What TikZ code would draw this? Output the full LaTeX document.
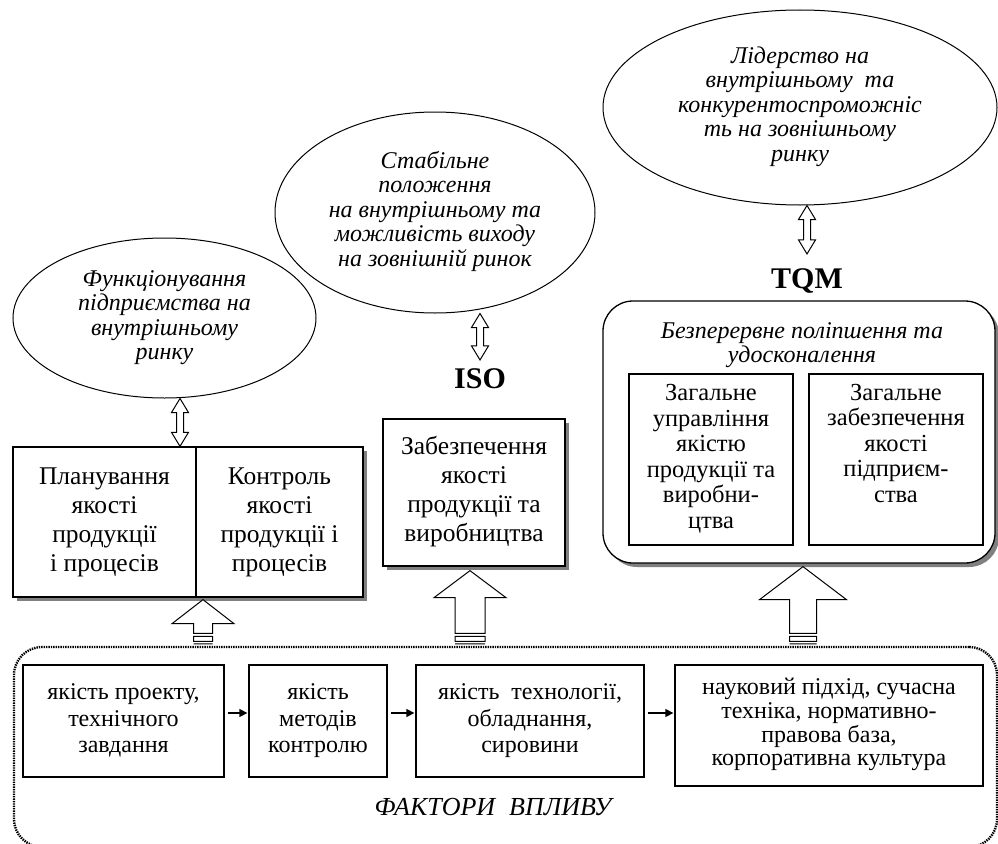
\documentclass[tikz,border=0pt]{standalone}
\usepackage{fontspec}
\setmainfont{Liberation Serif}
\usepackage{graphicx}
\usetikzlibrary{shapes.geometric,shadows,arrows.meta,calc}
\newcommand{\sqz}[2][1]{\scalebox{1}[#1]{\begin{tabular}{@{}c@{}}#2\end{tabular}}}
\newcommand{\dblarr}[2]{\draw[hollow] let \p1=#1, \p2=#2 in
  (\x1,\y1) -- (\x1+8.5pt,\y1-14pt) -- (\x1+3.5pt,\y1-14pt) -- (\x1+3.5pt,\y2+14pt) -- (\x1+8.5pt,\y2+14pt)
  -- (\x1,\y2) -- (\x1-8.5pt,\y2+14pt) -- (\x1-3.5pt,\y2+14pt) -- (\x1-3.5pt,\y1-14pt) -- (\x1-8.5pt,\y1-14pt) -- cycle;}
% #1 tip, #2 base point on frame, #3 head length, #4 head half width, #5 shaft half width
\newcommand{\bigarr}[5]{\draw[hollow] let \p1=#1, \p2=#2 in
  (\x1,\y1) -- (\x1+#4,\y1-#3) -- (\x1+#5,\y1-#3) -- (\x1+#5,\y2+12.5pt) -- (\x1-#5,\y2+12.5pt)
  -- (\x1-#5,\y1-#3) -- (\x1-#4,\y1-#3) -- cycle
  (\x1-#5,\y2+9.5pt) rectangle (\x1+#5,\y2+4.5pt)
  (\x1-#5,\y2+2pt) -- (\x1+#5,\y2+2pt);}
\begin{document}
\begin{tikzpicture}[x=1pt,y=-1pt,
  ell/.style={ellipse, draw, line width=1pt, inner sep=0pt, font=\fontsize{24}{24.5}\selectfont\itshape},
  box/.style={draw, line width=1.3pt, fill=white, inner sep=0pt},
  shad/.style={drop shadow={shadow xshift=4pt,shadow yshift=-4pt,fill=black!50,opacity=1}},
  btxt/.style={font=\fontsize{25.5}{29}\selectfont},
  qtxt/.style={font=\fontsize{24.5}{25.5}\selectfont},
  ftxt/.style={font=\fontsize{24}{26.5}\selectfont},
  itxt/.style={font=\fontsize{24}{22.5}\selectfont\itshape, inner sep=0pt},
  lbl/.style={font=\fontsize{30}{30}\selectfont\bfseries, inner sep=0pt},
  hollow/.style={draw, line width=1pt, fill=white, line join=miter},
  small/.style={-{Triangle[length=8pt,width=8pt]}, line width=1.3pt, shorten <=3pt, shorten >=1pt},
]
\useasboundingbox (0,0) rectangle (998,843);
\clip (0,0) rectangle (998,843);
\fill[white] (0,0) rectangle (998,843);

% ellipses
\node[ell, minimum width=303pt, minimum height=160pt] (e1) at (164.5,318)
  {\sqz{Функціонування\\підприємства на\\внутрішньому\\ринку}};
\node[ell, minimum width=320pt, minimum height=201pt] (e2) at (435,212.5)
  {\sqz{Стабільне\\положення\\на внутрішньому та\\можливість виходу\\на зовнішній ринок}};
\node[ell, minimum width=394pt, minimum height=195pt] (e3) at (800,107.5)
  {\sqz{Лідерство на\\внутрішньому~ та\\конкурентоспроможніс\\ть на зовнішньому\\ринку}};

% labels
\node[lbl, anchor=base] (iso) at (480,388) {ISO};
\node[lbl, anchor=base] (tqm) at (807,288) {TQM};

% box 1
\node[box, shad, btxt, minimum width=183pt, minimum height=150pt] (p1) at (104.5,522)
  {\sqz{Планування\\якості\\продукції\\і процесів}};
\node[box, shad, btxt, minimum width=167pt, minimum height=150pt] (p2) at (279.5,522)
  {\sqz{Контроль\\якості\\продукції і\\процесів}};

% box 2
\node[box, shad, btxt, minimum width=182pt, minimum height=147pt] (z) at (474,492.5)
  {\sqz{Забезпечення\\якості\\продукції та\\виробництва}};

% TQM box
\node[box, shad, rounded corners=30pt, minimum width=392pt, minimum height=262pt] (t) at (799,432) {};
\node[itxt] (th) at (802,346) {\sqz{Безперервне поліпшення та\\удосконалення}};
\node[box, qtxt, minimum width=164pt, minimum height=171pt] (q1) at (711,459.5)
  {\sqz{Загальне\\управління\\якістю\\продукції та\\виробни-\\цтва}};
\node[box, minimum width=174pt, minimum height=171pt] (q2) at (896,459.5) {};
\node[qtxt, inner sep=0pt, anchor=north] (q2t) at ([yshift=-9pt]q2.north)
  {\sqz{Загальне\\забезпечення\\якості\\підприєм-\\ства}};

% factors frame
\node[draw, line width=2.4pt, dash pattern=on 1.4pt off 1pt, rounded corners=28pt,
  minimum width=983pt, minimum height=200pt, inner sep=0pt] (ff) at (505.5,747) {};
\node[box, ftxt, minimum width=201pt, minimum height=112pt] (fa) at (123.5,721)
  {\sqz{якість проекту,\\технічного\\завдання}};
\node[box, ftxt, minimum width=138pt, minimum height=112pt] (fb) at (318,721)
  {\sqz{якість\\методів\\контролю}};
\node[box, ftxt, minimum width=228pt, minimum height=112pt] (fc) at (530,721)
  {\sqz{якість~ технології,\\обладнання,\\сировини}};
\node[box, font=\fontsize{24}{23.5}\selectfont, minimum width=308pt, minimum height=121pt] (fd) at (829,725.5)
  {\sqz{науковий підхід, сучасна\\техніка, нормативно-\\правова база,\\корпоративна культура}};
\node[itxt, font=\fontsize{26}{26}\selectfont\itshape] (fl) at (493,807) {ФАКТОРИ\hspace{14pt}ВПЛИВУ};

% small arrows
\coordinate (ay) at (0,713);
\draw[small] (fa.east |- ay) -- (fb.west |- ay);
\draw[small] (fb.east |- ay) -- (fc.west |- ay);
\draw[small] (fc.east |- ay) -- (fd.west |- ay);

% double arrows
\coordinate (d1x) at (180,0);
\coordinate (d2x) at (480,0);
\coordinate (d3x) at (807,0);
\dblarr{(e1.south -| d1x)}{(p1.north -| d1x)}
\dblarr{(e2.south -| d2x)}{([yshift=8pt]iso.north)}
\dblarr{(e3.south -| d3x)}{([yshift=14pt]tqm.north)}

% big arrows
\coordinate (a1x) at (203,0);
\coordinate (a2x) at (470,0);
\coordinate (a3x) at (803,0);
\bigarr{([yshift=-2pt]p1.south -| a1x)}{(ff.north -| a1x)}{24pt}{31pt}{9.5pt}
\bigarr{([yshift=-4pt]z.south -| a2x)}{(ff.north -| a2x)}{27pt}{36pt}{15pt}
\bigarr{([yshift=-3pt]t.south -| a3x)}{(ff.north -| a3x)}{33pt}{43.5pt}{13.5pt}
\end{tikzpicture}
\end{document}
